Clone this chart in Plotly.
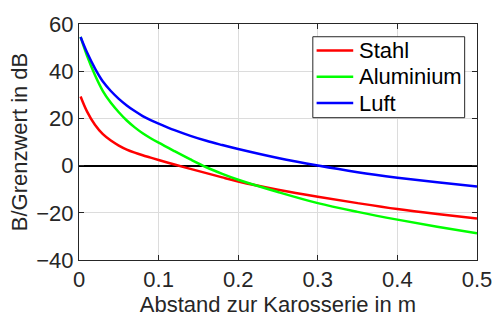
import plotly.graph_objects as go

# Distance to car body in m
x_stahl = [0.002, 0.01, 0.02, 0.03, 0.04, 0.05, 0.06, 0.07, 0.08, 0.09, 0.1, 0.12, 0.14, 0.16, 0.18, 0.2, 0.25, 0.3, 0.35, 0.4, 0.45, 0.5]
y_stahl = [29.3, 23.0, 17.3, 13.3, 10.6, 8.5, 6.8, 5.5, 4.4, 3.4, 2.4, 0.45, -1.4, -3.2, -5.0, -6.7, -10.2, -13.2, -15.9, -18.4, -20.5, -22.4]

x_alu = [0.002, 0.01, 0.02, 0.03, 0.04, 0.05, 0.06, 0.07, 0.08, 0.09, 0.1, 0.12, 0.14, 0.16, 0.18, 0.2, 0.25, 0.3, 0.35, 0.4, 0.45, 0.5]
y_alu = [54.5, 46.6, 38.4, 31.6, 26.6, 22.6, 19.1, 16.2, 13.7, 11.6, 9.7, 6.1, 2.6, -0.7, -3.5, -6.0, -11.2, -15.9, -19.6, -22.9, -25.9, -28.7]

x_luft = [0.002, 0.01, 0.02, 0.03, 0.04, 0.05, 0.06, 0.07, 0.08, 0.09, 0.1, 0.12, 0.14, 0.16, 0.18, 0.2, 0.25, 0.3, 0.35, 0.4, 0.45, 0.5]
y_luft = [54.5, 48.0, 41.2, 35.6, 31.6, 28.3, 25.5, 23.1, 21.0, 19.3, 17.8, 15.0, 12.6, 10.5, 8.7, 7.0, 3.2, 0.0, -2.8, -5.1, -7.1, -8.9]

series_names = ["Stahl", "Aluminium", "Luft"]
series_colors = ["#ff0000", "#00ff00", "#0000ff"]

x_ticks = [0, 0.1, 0.2, 0.3, 0.4, 0.5]
x_ticklabels = ["0", "0.1", "0.2", "0.3", "0.4", "0.5"]
y_ticks = [-40, -20, 0, 20, 40, 60]

font_family = "Liberation Sans, Arial, sans-serif"
txt = "#262626"
fs = 22

fig = go.Figure()
for xs, ys, name, col in zip([x_stahl, x_alu, x_luft], [y_stahl, y_alu, y_luft], series_names, series_colors):
    fig.add_trace(go.Scatter(x=xs, y=ys, mode="lines", name=name, showlegend=False,
                             line=dict(color=col, width=2.5, shape="spline", smoothing=1.0)))

axis_common = dict(
    showline=True, linecolor="#262626", linewidth=1, mirror="ticks",
    ticks="inside", ticklen=5, tickcolor="#262626", tickwidth=1,
    showgrid=True, gridcolor="#dcdcdc", gridwidth=1,
    tickfont=dict(family=font_family, size=fs, color=txt),
)

fig.update_xaxes(range=[0, 0.5], tickvals=x_ticks, ticktext=x_ticklabels, zeroline=False,
                 title=dict(text="Abstand zur Karosserie in m", font=dict(family=font_family, size=fs, color=txt), standoff=4),
                 **axis_common)
fig.update_yaxes(range=[-40, 60], tickvals=y_ticks, zeroline=True, zerolinecolor="#000000", zerolinewidth=1.5,
                 title=dict(text="B/Grenzwert in dB", font=dict(family=font_family, size=fs, color=txt), standoff=2),
                 **axis_common)

# Legend box (paper coordinates of the plot area)
leg_x0, leg_x1, leg_y0, leg_y1 = 0.5875, 0.969, 0.603, 0.946
line_x0, line_x1, text_x = 0.597, 0.689, 0.6976
row_y = [0.888, 0.776, 0.665]

shapes = [dict(type="rect", xref="paper", yref="paper", x0=leg_x0, x1=leg_x1, y0=leg_y0, y1=leg_y1,
               line=dict(color="#262626", width=1), fillcolor="white", layer="above")]
annotations = []
for name, col, ry in zip(series_names, series_colors, row_y):
    shapes.append(dict(type="line", xref="paper", yref="paper", x0=line_x0, x1=line_x1, y0=ry, y1=ry,
                       line=dict(color=col, width=2.5), layer="above"))
    annotations.append(dict(xref="paper", yref="paper", x=text_x, y=ry, text=name, showarrow=False,
                            xanchor="left", yanchor="middle",
                            font=dict(family=font_family, size=fs, color="#000000")))

fig.update_layout(
    width=504, height=324,
    margin=dict(l=79, r=16, t=16, b=62),
    paper_bgcolor="white", plot_bgcolor="white",
    font=dict(family=font_family, size=fs, color=txt),
    showlegend=False,
    shapes=shapes, annotations=annotations,
)

fig.write_html("out.html")
